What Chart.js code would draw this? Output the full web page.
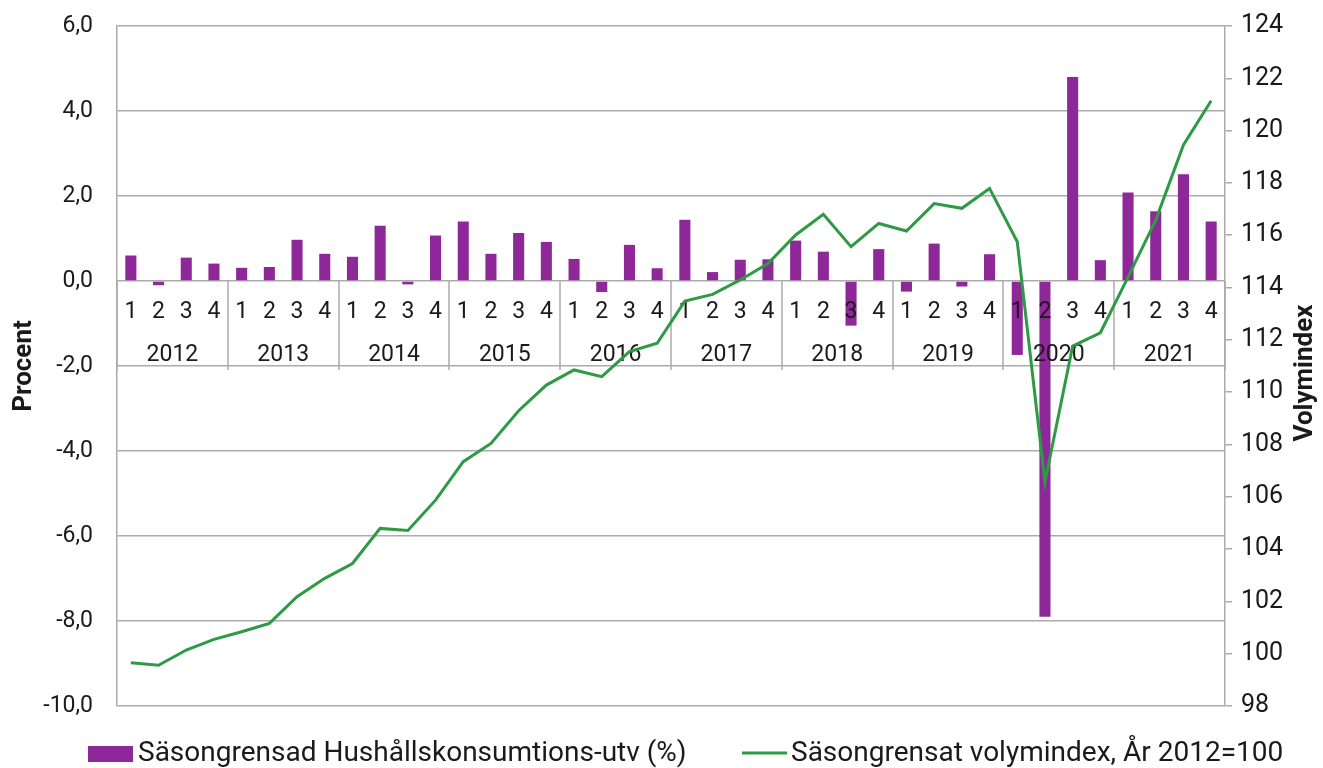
<!DOCTYPE html>
<html lang="sv">
<head>
<meta charset="utf-8">
<title>Hushållskonsumtion</title>
<script src="https://cdn.jsdelivr.net/npm/chart.js@4.4.1/dist/chart.umd.min.js"></script>
<style>
  html, body { margin:0; padding:0; background:#fff; }
</style>
</head>
<body>
<canvas id="chartKonsumtion" width="1323" height="768"></canvas>
<script>
// Kvartal och år (kategoriaxeln)
const years = ['2012','2013','2014','2015','2016','2017','2018','2019','2020','2021'];
const quarterNames = ['1','2','3','4'];

// Säsongrensad hushållskonsumtion, förändring i procent (staplar, vänster axel)
const consumptionChange = [
   0.60, -0.10,  0.55,  0.41,
   0.31,  0.33,  0.97,  0.64,
   0.57,  1.30, -0.08,  1.07,
   1.40,  0.64,  1.13,  0.92,
   0.52, -0.26,  0.85,  0.30,
   1.44,  0.21,  0.50,  0.51,
   0.95,  0.69, -1.05,  0.75,
  -0.25,  0.88, -0.13,  0.63,
  -1.74, -7.90,  4.80,  0.49,
   2.08,  1.64,  2.51,  1.40
];

// Säsongrensat volymindex, år 2012=100 (linje, höger axel)
const volumeIndex = [
   99.65,  99.56, 100.14, 100.55,
  100.84, 101.16, 102.18, 102.88,
  103.45, 104.79, 104.71, 105.87,
  107.34, 108.04, 109.29, 110.27,
  110.85, 110.59, 111.55, 111.87,
  113.48, 113.74, 114.29, 114.92,
  116.01, 116.80, 115.56, 116.45,
  116.16, 117.21, 117.03, 117.79,
  115.75, 106.57, 111.76, 112.27,
  114.40, 116.58, 119.45, 121.14
];

const leftTicks = { min: -10, max: 6, step: 2 };
const rightTicks = { min: 98, max: 124, step: 2 };

const barLabel = 'Säsongrensad Hushållskonsumtions-utv (%)';
const lineLabel = 'Säsongrensat volymindex, År 2012=100';

(() => {
  const PURPLE = '#8E2899';
  const GREEN = '#2F9A45';
  const GRID = '#ababab';
  const TEXT = '#1a1a1a';
  const FONT = 'Roboto';

  const labels = [];
  years.forEach(() => quarterNames.forEach(q => labels.push(q)));

  // kvartalssiffror, årtal och avdelare vid nollinjen
  const categoryAxis = {
    id: 'categoryAxis',
    beforeDatasetsDraw(chart) {
      const { ctx, scales: { x, y } } = chart;
      const y0 = y.getPixelForValue(0);
      const band = (x.right - x.left) / labels.length;
      ctx.save();
      ctx.strokeStyle = GRID;
      ctx.lineWidth = 1.5;
      for (let i = 0; i <= years.length; i++) {
        const px = Math.round(x.getPixelForValue(i * 4) - band / 2);
        ctx.beginPath();
        ctx.moveTo(px, y0);
        ctx.lineTo(px, y0 + 89);
        ctx.stroke();
      }
      ctx.restore();
    },
    afterDatasetDraw(chart, args) {
      if (args.meta.type !== 'bar') return;
      const { ctx, scales: { x, y } } = chart;
      const y0 = y.getPixelForValue(0);
      ctx.save();
      ctx.fillStyle = TEXT;
      ctx.font = `23px ${FONT}`;
      ctx.textAlign = 'center';
      ctx.textBaseline = 'middle';
      labels.forEach((q, i) => ctx.fillText(q, x.getPixelForValue(i), y0 + 31));
      years.forEach((yr, i) => {
        const cx = (x.getPixelForValue(i * 4) + x.getPixelForValue(i * 4 + 3)) / 2;
        ctx.fillText(yr, cx, y0 + 74);
      });
      ctx.restore();
    },
    afterDraw(chart) {
      const { ctx, chartArea } = chart;
      ctx.save();
      ctx.fillStyle = TEXT;
      ctx.font = `bold 26px ${FONT}`;
      ctx.textAlign = 'center';
      ctx.textBaseline = 'middle';
      const mid = (chartArea.top + chartArea.bottom) / 2;
      [['Procent', 24, mid], ['Volymindex', 1305, mid + 7]].forEach(([t, tx, ty]) => {
        ctx.save();
        ctx.translate(tx, ty);
        ctx.rotate(-Math.PI / 2);
        ctx.fillText(t, 0, 0);
        ctx.restore();
      });

      // förklaring
      ctx.font = `28px ${FONT}`;
      ctx.textAlign = 'left';
      ctx.fillStyle = PURPLE;
      ctx.fillRect(88, 746, 45, 16);
      ctx.fillStyle = TEXT;
      ctx.fillText(barLabel, 138, 754);
      ctx.strokeStyle = GREEN;
      ctx.lineWidth = 3;
      ctx.beginPath();
      ctx.moveTo(742, 753);
      ctx.lineTo(787, 753);
      ctx.stroke();
      ctx.fillText(lineLabel, 791, 754);
      ctx.restore();
    }
  };

  // fast bredd och ingen extra luft ovanför/under axlarna
  const fitAxis = w => s => {
    s.width = w;
    s.paddingTop = 0;
    s.paddingBottom = 0;
  };

  new Chart(document.getElementById('chartKonsumtion'), {
    type: 'bar',
    data: {
      labels,
      datasets: [
        {
          type: 'line', label: lineLabel, data: volumeIndex, yAxisID: 'y1', order: 0,
          borderColor: GREEN, backgroundColor: GREEN, borderWidth: 3,
          pointRadius: 0, tension: 0
        },
        {
          type: 'bar', label: barLabel, data: consumptionChange, yAxisID: 'y', order: 1,
          backgroundColor: PURPLE, barPercentage: 0.4, categoryPercentage: 1.0
        }
      ]
    },
    options: {
      responsive: false,
      animation: false,
      layout: { padding: { top: 26, bottom: 62, left: 0, right: 0 } },
      plugins: { legend: { display: false }, tooltip: { enabled: false } },
      scales: {
        x: { display: false, offset: true },
        y: {
          position: 'left', min: leftTicks.min, max: leftTicks.max,
          afterFit: fitAxis(117),
          grid: { color: GRID, lineWidth: 1.5, drawTicks: false },
          border: { display: true, color: GRID, width: 1.5 },
          ticks: {
            stepSize: leftTicks.step, autoSkip: false, padding: 24, color: TEXT,
            font: { family: FONT, size: 23 },
            callback: v => v.toFixed(1).replace('.', ',')
          }
        },
        y1: {
          position: 'right', min: rightTicks.min, max: rightTicks.max,
          afterFit: fitAxis(98),
          grid: { drawOnChartArea: false, color: GRID, lineWidth: 1.5, tickLength: 7 },
          border: { display: true, color: GRID, width: 1.5 },
          ticks: {
            stepSize: rightTicks.step, autoSkip: false, padding: 9, color: TEXT,
            font: { family: FONT, size: 25 }
          }
        }
      }
    },
    plugins: [categoryAxis]
  });
})();
</script>
</body>
</html>
